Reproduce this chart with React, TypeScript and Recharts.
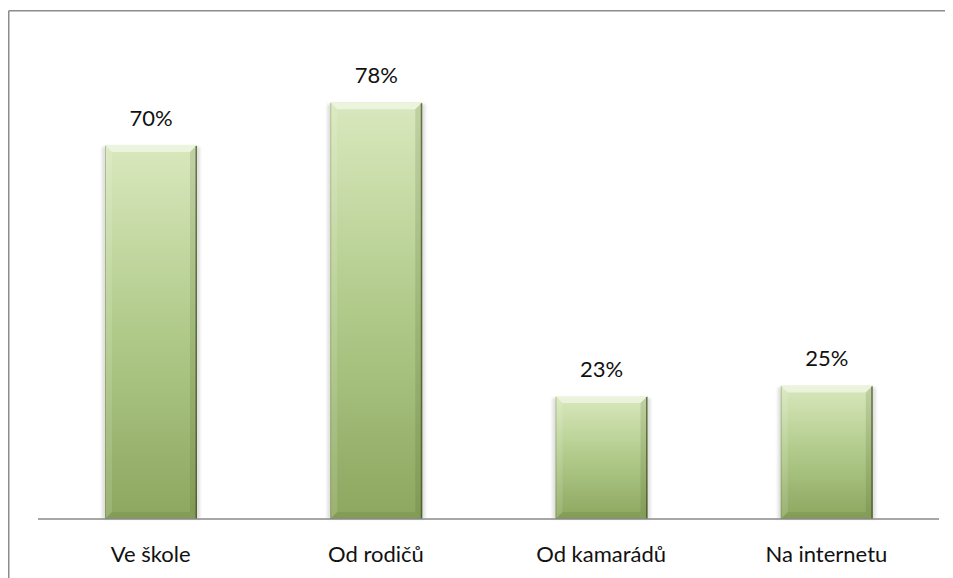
import React from "react";
import { BarChart, Bar, XAxis, YAxis, LabelList } from "recharts";

const categories = ["Ve škole", "Od rodičů", "Od kamarádů", "Na internetu"];
const shares = [0.7, 0.78, 0.23, 0.25];
const labels = ["70%", "78%", "23%", "25%"];

const data = categories.map((c, i) => ({ name: c, value: shares[i], label: labels[i] }));

const FONT = "Lato, 'Open Sans', sans-serif";

function BevelBar(props: any) {
  const { x, y, width: w, height: h } = props;
  if (h <= 0) return null;
  const b = Math.min(7, h / 2);
  return (
    <g>
      <rect x={x - 3} y={y + 2} width={w + 6} height={h - 2} fill="#000" opacity={0.12} filter="url(#barShadow)" />
      <rect x={x} y={y} width={w} height={h} fill="url(#barGrad)" />
      <polygon points={`${x},${y} ${x + w},${y} ${x + w - b},${y + b} ${x + b},${y + b}`} fill="#ffffff" opacity={0.5} />
      <polygon points={`${x},${y} ${x + b},${y + b} ${x + b},${y + h - b} ${x},${y + h}`} fill="#ffffff" opacity={0.12} />
      <polygon points={`${x + w},${y} ${x + w},${y + h} ${x + w - b},${y + h - b} ${x + w - b},${y + b}`} fill="#3d4f1e" opacity={0.15} />
      <polygon points={`${x},${y + h} ${x + w},${y + h} ${x + w - b},${y + h - b} ${x + b},${y + h - b}`} fill="#3d4f1e" opacity={0.12} />
      <line x1={x + w - 0.75} y1={y + 1} x2={x + w - 0.75} y2={y + h} stroke="#3e4d22" strokeWidth={1.5} opacity={0.7} />
      <line x1={x + 0.5} y1={y + 1} x2={x + 0.5} y2={y + h} stroke="#5f7437" strokeWidth={1} opacity={0.35} />
    </g>
  );
}

function TopLabel(props: any) {
  const { x, y, width, value } = props;
  return (
    <text x={x + width / 2} y={y - 19} textAnchor="middle" fontFamily={FONT} fontSize={22} fill="#111">
      {value}
    </text>
  );
}

function CatTick(props: any) {
  const { x, y, payload } = props;
  return (
    <text x={x} y={y} dy={43} textAnchor="middle" fontFamily={FONT} fontSize={22} fill="#111">
      {payload.value}
    </text>
  );
}

export default function App() {
  return (
    <div style={{ position: "relative", width: 945, height: 570, overflow: "hidden", background: "#fff" }}>
      <BarChart
        width={945}
        height={570}
        data={data}
        margin={{ top: 30, right: 14, bottom: 29, left: 30 }}
      >
        <defs>
          <linearGradient id="barGrad" x1="0" y1="0" x2="0" y2="1">
            <stop offset="0" stopColor="#d9e8bd" />
            <stop offset="0.5" stopColor="#b0ca8a" />
            <stop offset="1" stopColor="#8da760" />
          </linearGradient>
          <filter id="barShadow" x="-20%" y="-20%" width="140%" height="140%">
            <feGaussianBlur stdDeviation="1.5" />
          </filter>
        </defs>
        <XAxis
          dataKey="name"
          height={30}
          axisLine={{ stroke: "#8a8a8a", strokeWidth: 1.5 }}
          tickLine={false}
          tickSize={0}
          tickMargin={0}
          tick={<CatTick />}
          interval={0}
        />
        <YAxis hide domain={[0, 0.9]} />
        <Bar dataKey="value" barSize={92} shape={<BevelBar />} isAnimationActive={false}>
          <LabelList dataKey="label" content={<TopLabel />} />
        </Bar>
      </BarChart>
      <svg width={945} height={570} style={{ position: "absolute", left: 0, top: 0, pointerEvents: "none" }}>
        <line x1={0.75} y1={2.75} x2={945} y2={2.75} stroke="#8c8c8c" strokeWidth={1.5} />
        <line x1={0.75} y1={2.75} x2={0.75} y2={570} stroke="#8c8c8c" strokeWidth={1.5} />
      </svg>
    </div>
  );
}
